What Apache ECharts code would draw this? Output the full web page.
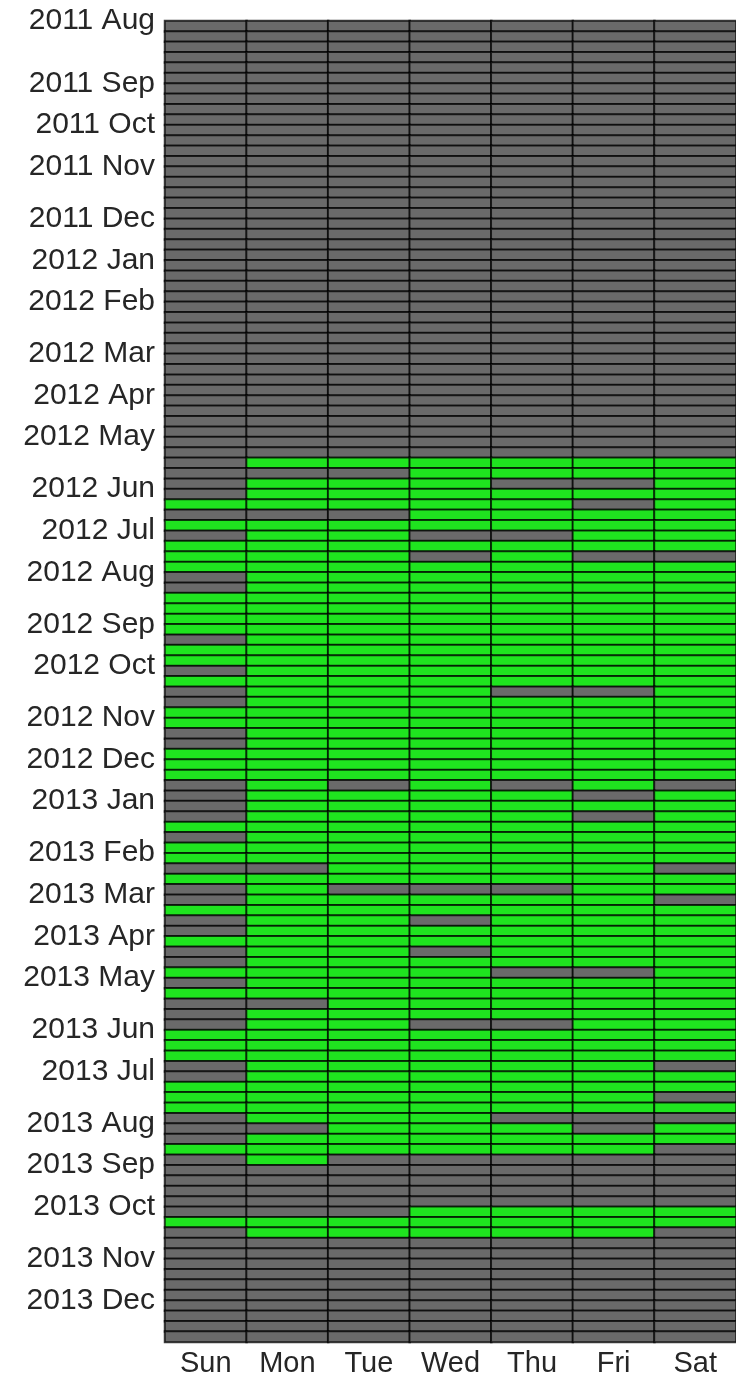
<!DOCTYPE html>
<html>
<head>
<meta charset="utf-8">
<script src="https://cdn.jsdelivr.net/npm/echarts@6/dist/echarts.min.js"></script>
<style>
html, body { margin: 0; padding: 0; background: #fff; }
#main { width: 736px; height: 1389px; }
</style>
</head>
<body>
<div id="main"></div>
<script>
// columns
var days = ["Sun", "Mon", "Tue", "Wed", "Thu", "Fri", "Sat"];

// one string per week (first week starts Sun 31 Jul 2011), Sun..Sat, 1 = active
var weekActivity = [
  "0000000", "0000000", "0000000", "0000000", "0000000", "0000000", "0000000", "0000000", "0000000", "0000000",
  "0000000", "0000000", "0000000", "0000000", "0000000", "0000000", "0000000", "0000000", "0000000", "0000000",
  "0000000", "0000000", "0000000", "0000000", "0000000", "0000000", "0000000", "0000000", "0000000", "0000000",
  "0000000", "0000000", "0000000", "0000000", "0000000", "0000000", "0000000", "0000000", "0000000", "0000000",
  "0000000", "0000000",
  "0111111", "0001111", "0111001", "0111111", "1111101", "0001111", "1111111", "0110011", // 42-49
  "1111111", "1110100", "1111111", "0111111", "0111111", "1111111", "1111111", "1111111", // 50-57
  "1111111", "0111111", "1111111", "1111111", "0111111", "1111111", "0111001", "0111111", // 58-65
  "1111111", "1111111", "0111111", "0111111", "1111111", "1111111", "1111111", "0101010", // 66-73
  "0111101", "0111111", "0111101", "1111111", "0111111", "1111111", "1111111", "0011110", // 74-81
  "1111111", "0100011", "0111110", "1111111", "0110111", "0111111", "1111111", "0110111", // 82-89
  "0111111", "1111001", "0111111", "1111111", "0011111", "0111111", "0110011", "1111111", // 90-97
  "1111111", "1111111", "0111110", "0111111", "1111111", "1111110", "1111111", "0111000", // 98-105
  "0011101", "0111111", "1111110", "0100000", "0000000", "0000000", "0000000", "0000000", // 106-113
  "0001111", "1111111", "0111110",                                                        // 114-116
  "0000000", "0000000", "0000000", "0000000", "0000000", "0000000", "0000000", "0000000", "0000000", "0000000"
];

// y tick labels and the week boundary each one sits on
var monthLabels = [
  "2011 Aug", "2011 Sep", "2011 Oct", "2011 Nov", "2011 Dec",
  "2012 Jan", "2012 Feb", "2012 Mar", "2012 Apr", "2012 May", "2012 Jun",
  "2012 Jul", "2012 Aug", "2012 Sep", "2012 Oct", "2012 Nov", "2012 Dec",
  "2013 Jan", "2013 Feb", "2013 Mar", "2013 Apr", "2013 May", "2013 Jun",
  "2013 Jul", "2013 Aug", "2013 Sep", "2013 Oct", "2013 Nov", "2013 Dec"
];
var monthBoundary = [
  0, 6, 10, 14, 19,
  23, 27, 32, 36, 40, 45,
  49, 53, 58, 62, 67, 71,
  75, 80, 84, 88, 92, 97,
  101, 106, 110, 114, 119, 123
];

var GRAY = "#6a6a6a";
var GREEN = "#1fe41f";
var TEXT = "#262626";
var FONT = "Liberation Sans, Arial, sans-serif";

// week categories
var start = new Date(2011, 6, 31);
var weeks = weekActivity.map(function (s, i) {
  var d = new Date(start.getTime() + i * 7 * 86400000);
  return d.getFullYear() + "-" + (d.getMonth() + 1) + "-" + d.getDate();
});

// boundary axis: one more slot than weeks
var boundaryCats = [];
var labelAt = {};
for (var b = 0; b <= weekActivity.length; b++) boundaryCats.push("b" + b);
monthBoundary.forEach(function (b, i) { labelAt[b] = monthLabels[i]; });

var data = [];
weekActivity.forEach(function (row, i) {
  for (var j = 0; j < days.length; j++) {
    data.push([j, i, +row.charAt(j)]);
  }
});

var myChart = echarts.init(document.getElementById("main"));
myChart.setOption({
  animation: false,
  grid: { left: 165, top: 21, width: 580, height: 1321 },
  xAxis: {
    type: "category",
    data: days,
    axisLine: { show: false },
    axisTick: { show: false },
    splitLine: { show: false },
    axisLabel: { fontSize: 29, color: TEXT, fontFamily: FONT, margin: 7 }
  },
  yAxis: [
    {
      type: "category",
      data: weeks,
      inverse: true,
      axisLine: { show: false },
      axisTick: { show: false },
      axisLabel: { show: false },
      splitLine: { show: false }
    },
    {
      type: "category",
      data: boundaryCats,
      boundaryGap: false,
      inverse: true,
      position: "left",
      axisLine: { show: false },
      axisTick: { show: false },
      splitLine: { show: false },
      axisLabel: {
        fontSize: 30,
        color: TEXT,
        fontFamily: FONT,
        margin: 10,
        padding: [6, 0, 0, 0],
        interval: function (index) { return labelAt[index] !== undefined; },
        formatter: function (value, index) { return labelAt[index] || ""; }
      }
    }
  ],
  visualMap: {
    type: "piecewise",
    show: false,
    dimension: 2,
    pieces: [
      { value: 0, color: GRAY },
      { value: 1, color: GREEN }
    ]
  },
  series: [
    {
      type: "heatmap",
      data: data,
      itemStyle: { borderColor: "rgba(0,0,0,0.75)", borderWidth: 2 },
      emphasis: { disabled: true }
    }
  ]
});
</script>
</body>
</html>
